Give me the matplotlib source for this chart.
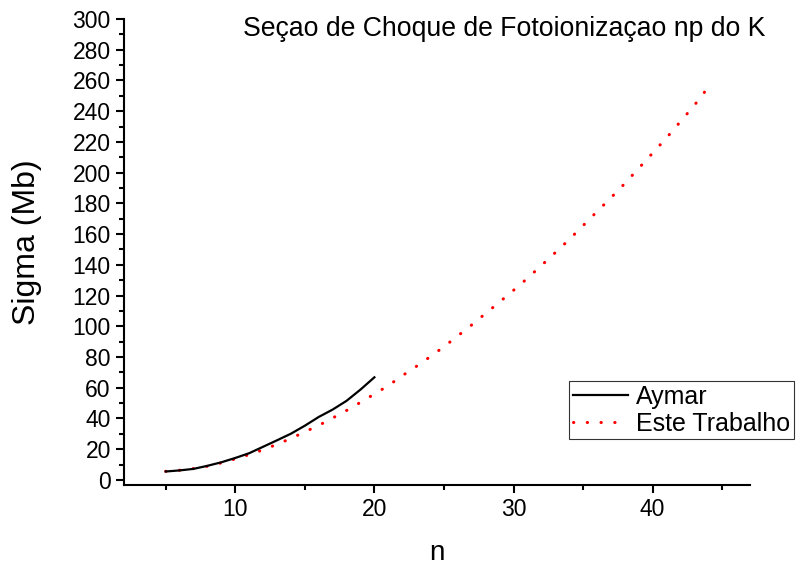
import matplotlib
matplotlib.use("Agg")
import matplotlib.pyplot as plt
from matplotlib.lines import Line2D
from matplotlib.ticker import MultipleLocator

plt.rcParams['font.family'] = ['Liberation Sans', 'DejaVu Sans']

# Aymar
n_aymar = [5, 6, 7, 8, 9, 10, 11, 12, 13, 14, 15, 16, 17, 18, 19, 20]
sigma_aymar = [5.5, 6.2, 7.2, 9.2, 11.5, 14.3, 17.4, 21.6, 25.8, 30.1,
               35.3, 41.0, 45.8, 51.5, 58.8, 66.8]

# Este Trabalho
n_trab = list(range(5, 45))
sigma_trab = [5.6, 6.3, 7.4, 8.9, 11.1, 13.7, 16.5, 19.6, 23.2, 27.0,
              31.3, 35.5, 40.3, 45.2, 50.5, 55.9, 61.4, 67.8, 73.8, 80.1,
              86.7, 93.8, 100.9, 108.4, 115.8, 123.4, 131.2, 139.5, 147.9, 156.4,
              165.5, 174.6, 183.6, 192.9, 202.8, 212.7, 222.6, 233.2, 243.8, 255.5]

fig = plt.figure(figsize=(7.97, 5.67), dpi=100)
ax = fig.add_axes([0.1556, 0.1446, 0.7854, 0.822])

ax.plot(n_aymar, sigma_aymar, color='black', lw=1.6, zorder=3)
ax.plot(n_trab, sigma_trab, color='red', lw=2.2,
        linestyle=(0, (0.1, 4.4)), dash_capstyle='round', zorder=2)

ax.set_xlim(2, 47)
ax.set_ylim(-3.3, 300)

for side in ['top', 'right']:
    ax.spines[side].set_visible(False)
for side in ['left', 'bottom']:
    ax.spines[side].set_linewidth(1.5)

ax.xaxis.set_major_locator(MultipleLocator(10))
ax.xaxis.set_minor_locator(MultipleLocator(5))
ax.yaxis.set_major_locator(MultipleLocator(20))
ax.yaxis.set_minor_locator(MultipleLocator(10))
ax.tick_params(which='major', direction='out', length=6, width=1.5, labelsize=16.5)
ax.tick_params(which='minor', direction='out', length=3.5, width=1.5)

ax.set_xlabel('n', fontsize=20, va='center')
ax.xaxis.set_label_coords(0.5, -0.145)
ax.set_ylabel('Sigma (Mb)', fontsize=23, va='center')
ax.yaxis.set_label_coords(-0.155, 0.52)

fig.text(0.633, 0.948, 'Seçao de Choque de Fotoionizaçao np do K',
         ha='center', va='center', fontsize=19.2)

handles = [Line2D([], [], color='black', lw=1.6),
           Line2D([], [], color='red', lw=2.2, linestyle=(0, (0.1, 4.4)),
                  dash_capstyle='round')]
leg = ax.legend(handles, ['Aymar', 'Este Trabalho'], loc='lower right',
                bbox_to_anchor=(1.0696, 0.098), fontsize=18, frameon=True,
                fancybox=False, handlelength=2.2, handletextpad=0.3,
                borderpad=0.15, labelspacing=0.1, borderaxespad=0)
leg.get_frame().set_edgecolor('black')
leg.get_frame().set_linewidth(0.8)

fig.savefig('out.png', dpi=100)
